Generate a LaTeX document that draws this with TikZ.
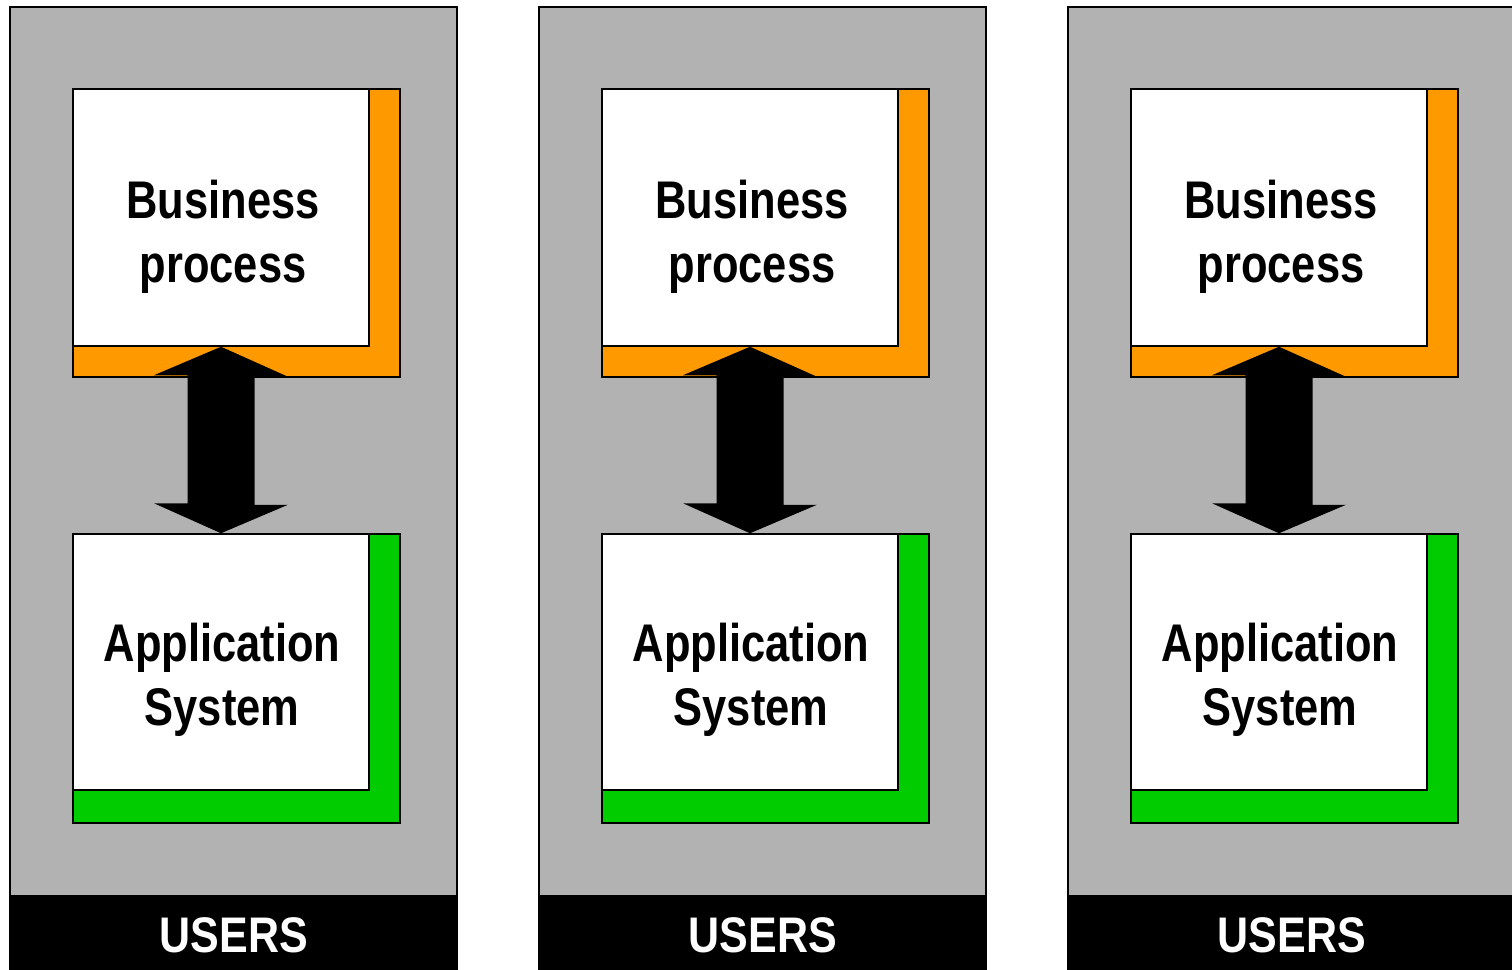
\documentclass[tikz,border=0pt]{standalone}
\usepackage{fontspec}
\newfontfamily\boxfont{Liberation Sans}[FakeStretch=0.82]
\newfontfamily\barfont{Liberation Sans}[FakeStretch=0.86]
\definecolor{panelgray}{HTML}{B2B2B2}
\definecolor{bporange}{HTML}{FF9900}
\definecolor{asgreen}{HTML}{00CC00}

\begin{document}
\begin{tikzpicture}[x=1pt,y=-1pt,
  panel/.style={draw,fill=panelgray,line width=1.2pt},
  frame/.style={draw,line width=1.5pt},
  wbox/.style={draw,fill=white,line width=1.5pt,rectangle,minimum width=296pt,inner sep=0pt},
  boxtext/.style={align=center,font=\boxfont\bfseries\fontsize{53}{64}\selectfont},
  bartext/.style={white,font=\barfont\bfseries\fontsize{50}{60}\selectfont}]
\useasboundingbox (0,0) rectangle (1512,969);
\clip (0,0) rectangle (1512,969);
\foreach \i/\x in {1/0,2/529,3/1058}{
\begin{scope}[xshift=\x pt]
\draw [panel] (10,7) rectangle (457,975);
%users bar
\fill (10,895) rectangle (457,975);
\node [bartext] (us\i) at (234,935) {USERS};

\draw [frame,fill=bporange] (73,89) rectangle (400,377);
\node [wbox,minimum height=257pt] (bp\i) at (221,217.5) {};
\node [boxtext] (bpt\i) at (223,236.5) {Business\\process};

\draw [frame,fill=asgreen] (73,534) rectangle (400,823);
\node [wbox,minimum height=256pt] (as\i) at (221,662) {};
\node [boxtext] (ast\i) at (222,680) {Application\\System};

%two headed arrow
\fill (bp\i.south) -- ++(67,30) -- ++(-33.5,0) -- ++(0,128) -- ++(33.5,0) -- (as\i.north) -- ++(-67,-30) -- ++(33.5,0) -- ++(0,-128) -- ++(-33.5,0) -- cycle;
\end{scope}
}
\end{tikzpicture}
\end{document}
